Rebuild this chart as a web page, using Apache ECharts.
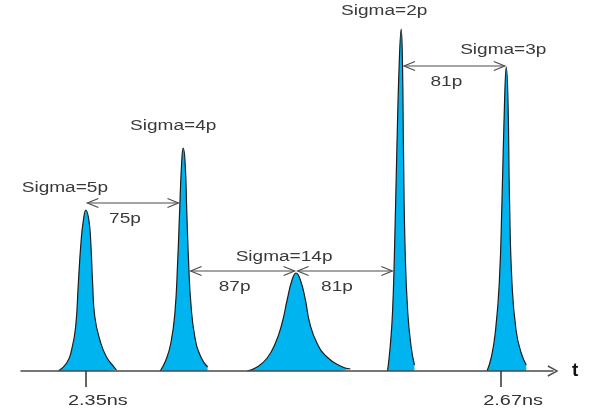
<!DOCTYPE html>
<html>
<head>
<meta charset="utf-8">
<script src="https://cdn.jsdelivr.net/npm/echarts@6/dist/echarts.min.js"></script>
<style>
  html, body { margin: 0; padding: 0; background: #ffffff; }
  #chart { width: 593px; height: 412px; }
</style>
</head>
<body>
<div id="chart"></div>
<script>
// Arrival time of the first pulse (ps) and spacing between consecutive pulses (ps)
const firstPulse = 2350;
const spacings = [75, 87, 81, 81];
// Pulse widths (sigma, ps)
const sigmas = [5, 4, 14, 2, 3];

// Shape of each pulse: time offset from its centre (ps) and amplitude (a.u.)
const pulseOffsets = [
  [-21.2, -14.8, -11.0, -7.9, -5.8, -3.8, -2.0, 0, 2.3, 3.8, 5.2, 6.9, 10.8, 15.9, 22.3, 23.6],
  [-17.7, -13.3, -9.5, -6.4, -4.3, -2.8, -1.2, 0, 1.5, 2.8, 4.2, 5.9, 9.0, 13.6, 18.8],
  [-37.7, -30.0, -22.3, -15.9, -10.8, -6.9, -3.1, 0, 3.3, 7.2, 10.5, 16.1, 23.8, 34.1, 41.8],
  [-10.5, -8.5, -6.7, -5.2, -3.4, -1.5, 0, 1.0, 1.8, 3.1, 5.1, 7.7, 10.2],
  [-14.8, -11.5, -8.5, -5.4, -3.3, -1.3, 0, 1.3, 2.5, 4.4, 7.5, 11.5, 15.4]
];
const pulseAmps = [
  [0, 8, 21, 44, 88, 128, 150, 161, 151, 128, 88, 54, 31, 14, 3, 1],
  [0, 11, 28, 58, 108, 158, 208, 223, 208, 158, 108, 68, 34, 14, 4],
  [0, 4, 13, 28, 48, 71, 91, 98, 91, 71, 48, 28, 14, 5, 2],
  [0, 24, 58, 118, 218, 308, 342, 308, 218, 118, 58, 24, 6],
  [0, 14, 38, 88, 171, 271, 304, 271, 171, 88, 41, 18, 6]
];

// Amplitude level at which each spacing arrow is drawn
const arrowLevels = [168, 100, 100, 305];

// Time axis ticks
const tickValues = [2350, 2670];
const tickLabels = ['2.35ns', '2.67ns'];

// ---- derived values ----
const centers = [firstPulse];
spacings.forEach((g, i) => centers.push(centers[i] + g));
const peakAmps = pulseAmps.map(a => Math.max.apply(null, a));

// Offset (ps) of a pulse flank at a given level, on the left (-1) or right (+1) side
function flankOffset(p, level, side) {
  const offs = pulseOffsets[p], amps = pulseAmps[p];
  const top = amps.indexOf(peakAmps[p]);
  if (level >= amps[top]) return 0;
  for (let k = top + side; k >= 0 && k < amps.length; k += side) {
    if (amps[k] <= level) {
      const kp = k - side;
      const f = (amps[kp] - level) / (amps[kp] - amps[k]);
      return offs[kp] + f * (offs[k] - offs[kp]);
    }
  }
  return offs[side > 0 ? offs.length - 1 : 0];
}

// Styling
const FONT = 'Liberation Sans, Arial, sans-serif';
const TEXT_STRETCH = 1.36;
const TICK_TEXT_STRETCH = 1.42;
const sigmaLabelShift = [[-21, -22], [-10, -22], [-12, -16], [-17, -18], [-3, -17]];
const chevron = 'path://M5,0L10,9L8.8,9.6L5,2.4L1.2,9.6L0,9Z';

function stretchedText(x, y, text, stretch, color) {
  return {
    type: 'text', x: x, y: y, scaleX: stretch,
    style: { text: text, x: 0, y: 0, align: 'center', verticalAlign: 'middle',
             fill: color, fontSize: 14, fontFamily: FONT }
  };
}

const pulseSeries = sigmas.map((s, i) => ({
  type: 'line',
  name: 'Sigma=' + s + 'p',
  data: pulseOffsets[i].map((o, k) => [centers[i] + o, pulseAmps[i][k]]),
  smooth: 0.5,
  symbol: 'none',
  silent: true,
  lineStyle: { color: '#1c1c1c', width: 1.2 },
  areaStyle: { color: '#00b4f0', opacity: 1 },
  z: 2
}));

// Double-headed spacing arrows with their labels
const arrowSeries = {
  type: 'custom',
  silent: true,
  z: 4,
  data: spacings.map((g, i) => [centers[i], centers[i + 1], arrowLevels[i], g, i]),
  encode: { x: [0, 1], y: 2 },
  renderItem(params, api) {
    const i = api.value(4);
    const lvl = api.value(2);
    const a = api.coord([centers[i] + flankOffset(i, lvl, 1), lvl]);
    const b = api.coord([centers[i + 1] + flankOffset(i + 1, lvl, -1), lvl]);
    const x1 = a[0] + 1.5, x2 = b[0] - 1.5, y = a[1];
    const stroke = { stroke: '#4d4d4d', lineWidth: 1.2, fill: null };
    return {
      type: 'group',
      children: [
        { type: 'line', shape: { x1: x1, y1: y, x2: x2, y2: y }, style: stroke },
        { type: 'polyline', shape: { points: [[x1 + 11, y - 4.5], [x1, y], [x1 + 11, y + 4.5]] }, style: stroke },
        { type: 'polyline', shape: { points: [[x2 - 11, y - 4.5], [x2, y], [x2 - 11, y + 4.5]] }, style: stroke },
        stretchedText((x1 + x2) / 2 - 8, y + 16, api.value(3) + 'p', TEXT_STRETCH, '#3a3a3a')
      ]
    };
  }
};

// Sigma labels above each pulse
const sigmaSeries = {
  type: 'custom',
  silent: true,
  z: 4,
  data: sigmas.map((s, i) => [centers[i], peakAmps[i], s, i]),
  encode: { x: 0, y: 1 },
  renderItem(params, api) {
    const i = api.value(3);
    const p = api.coord([api.value(0), api.value(1)]);
    return stretchedText(p[0] + sigmaLabelShift[i][0], p[1] + sigmaLabelShift[i][1],
                         'Sigma=' + api.value(2) + 'p', TEXT_STRETCH, '#3a3a3a');
  }
};

// Time labels under the two axis ticks
const tickLabelSeries = {
  type: 'custom',
  silent: true,
  z: 4,
  data: tickValues.map((v, i) => [v, 0, i]),
  encode: { x: 0, y: 1 },
  renderItem(params, api) {
    const p = api.coord([api.value(0), 0]);
    return stretchedText(p[0] + 12, p[1] + 30, tickLabels[api.value(2)], TICK_TEXT_STRETCH, '#333333');
  }
};

const chart = echarts.init(document.getElementById('chart'));
chart.setOption({
  animation: false,
  backgroundColor: '#ffffff',
  grid: { left: 21, right: 40, top: 0, bottom: 41, containLabel: false, outerBoundsMode: 'none' },
  xAxis: {
    type: 'value',
    min: 2300,
    max: 2710,
    z: 5,
    name: 't',
    nameLocation: 'end',
    nameGap: 19,
    nameTextStyle: { fontSize: 19, fontWeight: 'bold', color: '#111111', fontFamily: FONT,
                     align: 'left', verticalAlign: 'middle' },
    splitLine: { show: false },
    axisLine: {
      show: true,
      onZero: true,
      symbol: ['none', chevron],
      symbolSize: [12, 11],
      lineStyle: { color: '#4a4a4a', width: 1.5 }
    },
    axisTick: {
      show: true,
      customValues: tickValues,
      length: 16,
      lineStyle: { color: '#333333', width: 1.5 }
    },
    axisLabel: { show: false }
  },
  yAxis: { type: 'value', min: 0, max: 371, show: false },
  series: pulseSeries.concat([arrowSeries, sigmaSeries, tickLabelSeries])
});
</script>
</body>
</html>
